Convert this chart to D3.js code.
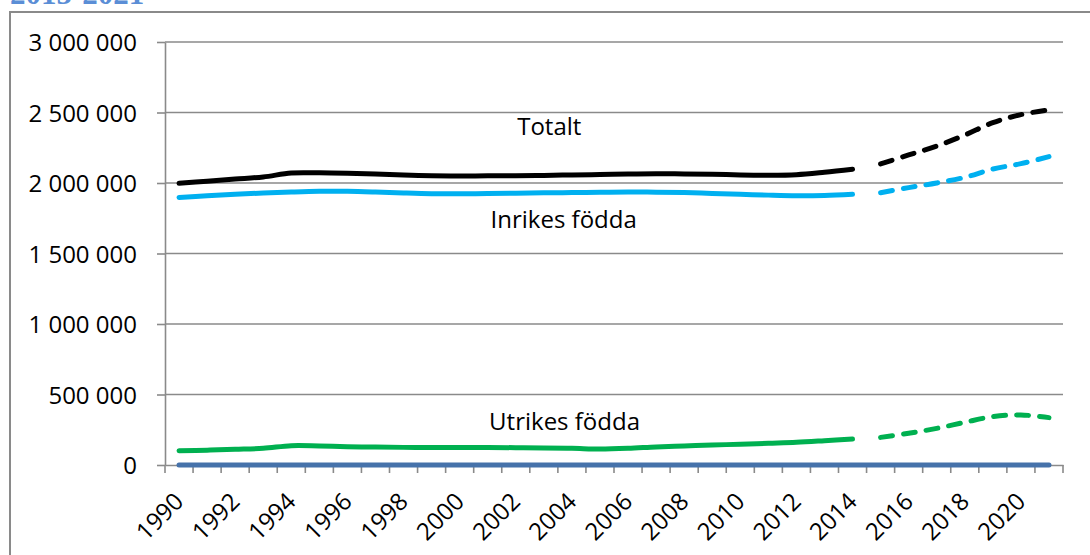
<!DOCTYPE html>
<html><head><meta charset="utf-8">
<script src="https://cdn.jsdelivr.net/npm/d3@7"></script>
<style>
body{margin:0;background:#fff}
svg{display:block}
text{font-family:"Open Sans",sans-serif}
</style>
</head><body>
<svg id="c" width="1090" height="555"></svg>
<script>
// ---- data ----
const years = ["1990","1991","1992","1993","1994","1995","1996","1997","1998","1999",
  "2000","2001","2002","2003","2004","2005","2006","2007","2008","2009",
  "2010","2011","2012","2013","2014","2015","2016","2017","2018","2019","2020","2021"];
const xTickLabels = ["1990","1992","1994","1996","1998","2000","2002","2004","2006","2008",
  "2010","2012","2014","2016","2018","2020"];
const yTicks = [0, 500000, 1000000, 1500000, 2000000, 2500000, 3000000];
const lastObserved = "2014";

const totalt = [1998000,2013000,2028000,2043000,2071000,2072000,2069000,2064000,2056000,2051000,
  2050000,2051000,2052000,2054000,2057000,2060000,2064000,2066000,2064000,2062000,
  2057000,2055000,2059000,2076000,2097000,2135000,2199000,2262000,2340000,2428000,2485000,2518000];
const inrikes = [1898000,1909000,1920000,1929000,1936000,1941000,1941000,1936000,1929000,1924000,
  1924000,1925000,1927000,1930000,1932000,1934000,1936000,1935000,1932000,1926000,
  1920000,1914000,1910000,1912000,1920000,1931000,1967000,2000000,2040000,2099000,2137000,2187000];
const utrikes = [101000,105000,111000,118000,137000,135000,130000,127000,125000,124000,
  124000,124000,123000,120000,118000,113000,118000,128000,135000,142000,
  147000,154000,161000,172000,184000,196000,225000,260000,303000,343000,355000,336000];
const noll = [0,0,0,0,0,0,0,0,0,0,0,0,0,0,0,0,0,0,0,0,0,0,0,0,0,0,0,0,0,0,0,0];

const titleText = "2015-2021";

// ---- layout ----
const svg = d3.select("#c");
const L = 165, R = 1063, T = 42, B = 465;
const x = d3.scaleBand().domain(years).range([L, R]);
const cx = d => x(d) + x.bandwidth() / 2;
const y = d3.scaleLinear().domain([0, 3000000]).range([B, T]);
const xl = d3.scaleLinear().domain([+years[0], +years[years.length-1]]).range([cx(years[0]), cx(years[years.length-1])]);

const gridCol = "#8a8a8a";

// title fragment (cut off at top, as in the source)
svg.append("text").attr("x", 10).attr("y", 3.5)
  .style("font-family", "'Liberation Serif', serif").style("font-weight", "bold")
  .style("font-size", "31px").attr("fill", "#5b8ed6").text(titleText);

// outer chart border
svg.append("rect").attr("x", 10).attr("y", 12).attr("width", 1200).attr("height", 700)
  .attr("fill", "none").attr("stroke", gridCol).attr("stroke-width", 2);

// gridlines
svg.append("g").selectAll("line").data(yTicks.filter(d => d > 0)).join("line")
  .attr("x1", L).attr("x2", R).attr("y1", d => y(d)).attr("y2", d => y(d))
  .attr("stroke", gridCol).attr("stroke-width", 1.6);

// y axis
const fmt = d => d3.format(",")(d).replace(/,/g, " ");
const ya = svg.append("g").attr("transform", `translate(${L},0)`)
  .call(d3.axisLeft(y).tickValues(yTicks).tickSize(8).tickSizeOuter(0).tickPadding(20).tickFormat(fmt));
ya.selectAll("path,line").attr("stroke", gridCol).attr("stroke-width", 1.6);
ya.selectAll("text").style("font-family", "'Open Sans',sans-serif").style("font-size", "24px").attr("fill", "#000").attr("dy", "0.36em");

// x axis
const xa = svg.append("g").attr("transform", `translate(0,${B})`)
  .call(d3.axisBottom(x).tickValues([]).tickSize(0).tickSizeOuter(0));
xa.selectAll("path").attr("stroke", gridCol).attr("stroke-width", 1.6);
const bounds = years.map(d => x(d)).concat([x.range()[1]]);
xa.selectAll("line.b").data(bounds).join("line").attr("class", "b")
  .attr("x1", d => d).attr("x2", d => d).attr("y1", 0).attr("y2", 8)
  .attr("stroke", gridCol).attr("stroke-width", 1.6);
svg.append("g").selectAll("text").data(xTickLabels).join("text")
  .attr("transform", d => `translate(${cx(d) + 6},${B + 38}) rotate(-45)`)
  .attr("text-anchor", "end").style("font-size", "24px").attr("fill", "#000").text(d => d);

// series
const line = d3.line().x(d => cx(d.year)).y(d => y(d.value)).curve(d3.curveCatmullRom.alpha(0.5));
const cut = years.indexOf(lastObserved);
function draw(values, color, split) {
  const pts = years.map((yr, i) => ({year: yr, value: values[i]}));
  const parts = split ? [[pts.slice(0, cut + 1), false], [pts.slice(cut + 1), true]] : [[pts, false]];
  parts.forEach(([p, dashed]) => {
    svg.append("path").attr("d", line(p)).attr("fill", "none")
      .attr("stroke", color).attr("stroke-width", 5).attr("stroke-linecap", "round")
      .attr("stroke-linejoin", "round")
      .attr("stroke-dasharray", dashed ? "12,11" : null);
  });
}
draw(noll, "#4672aa", false);
draw(utrikes, "#00b050", true);
draw(inrikes, "#00b0f0", true);
draw(totalt, "#000000", true);

// series labels
const labels = [
  {text: "Totalt", yr: 2002.05, v: 2340000},
  {text: "Inrikes födda", yr: 2001.1, v: 1681000},
  {text: "Utrikes födda", yr: 2001.05, v: 248000}
];
svg.append("g").selectAll("text").data(labels).join("text")
  .attr("x", d => xl(d.yr)).attr("y", d => y(d.v))
  .style("font-size", "24px").attr("fill", "#000").text(d => d.text);
</script>
</body></html>
